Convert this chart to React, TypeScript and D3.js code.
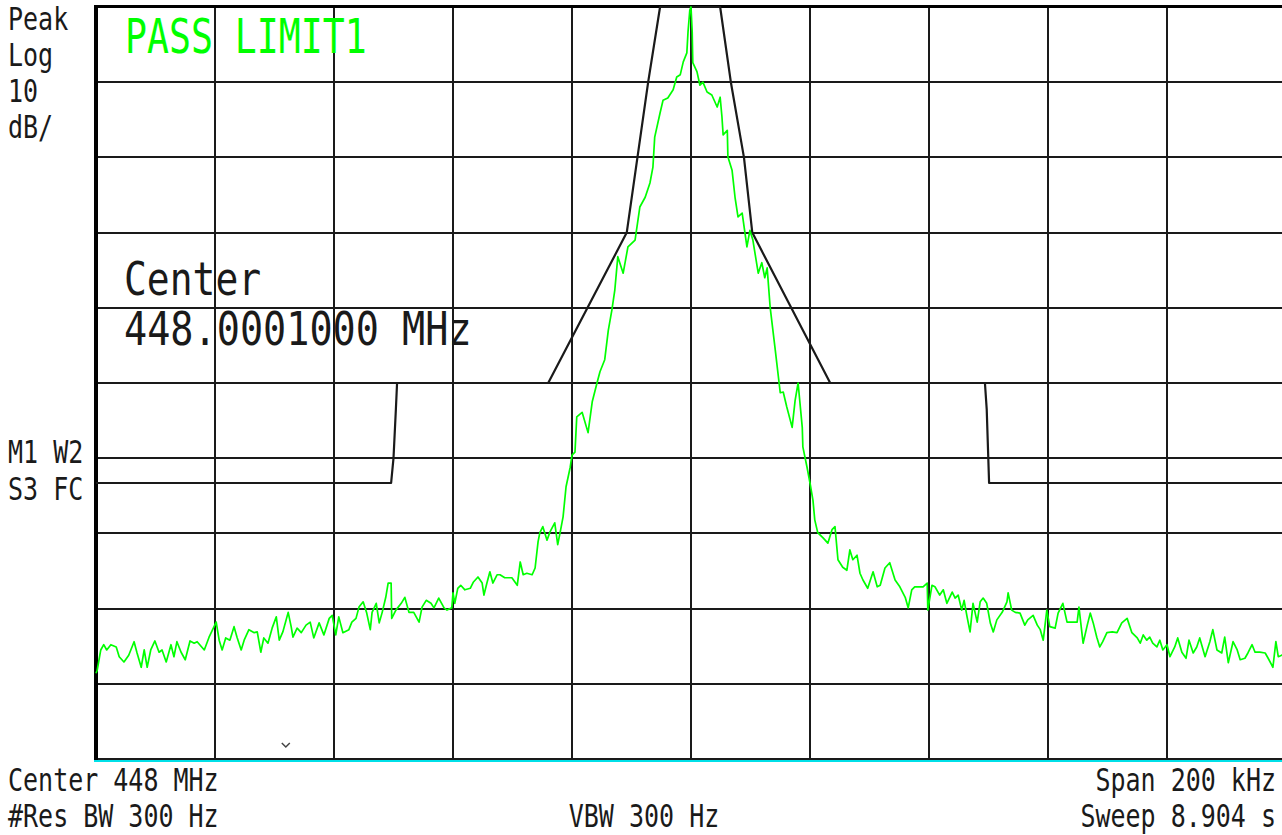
import React, { useEffect } from 'react';
import * as d3 from 'd3';

// Spectrum analyzer screen: 448 MHz center, 200 kHz span, 10 dB/div
const spanKHz = [-100, 100];
const levelDb = [0, -100];
const freqDivs = d3.range(-100, 101, 20);
const levelDivs = d3.range(0, -101, -10);

const scaleLabels = ['Peak', 'Log', '10', 'dB/'];
const markerLabels = ['M1 W2', 'S3 FC'];
const footerLeft = ['Center 448 MHz', '#Res BW 300 Hz'];
const footerMid = 'VBW 300 Hz';
const footerRight = ['Span 200 kHz', 'Sweep 8.904 s'];
const passText = 'PASS LIMIT1';
const centerText = ['Center', '448.0001000 MHz'];
const markerKHz = -68.1;

// limit line [kHz offset, dB]
const limit: [number, number][] = [
  [-100, -63.3], [-50.4, -63.3], [-50.0, -60], [-49.6, -53.5], [-49.4, -50], [-24.0, -50],
  [-10.8, -30], [-7.2, -10], [-5.2, 0],
  [4.9, 0], [6.7, -10], [8.9, -20], [10.3, -30], [23.4, -50], [49.4, -50],
  [49.7, -53.5], [50.1, -63.3], [100, -63.3],
];

// measured trace [kHz offset, dB]
const trace: [number, number][] = [
  [-100, -88.6], [-99.8, -88.2], [-99.2, -85.5], [-98.7, -84.8], [-98.2, -85.5], [-97.5, -84.8], [-96.6, -85.1],
  [-96.1, -86.4], [-95.3, -87.1], [-94.5, -86.2], [-93.6, -84.4], [-93.1, -85.9], [-92.4, -87.8],
  [-91.9, -85.5], [-91.4, -87.8], [-90.8, -85.5], [-90.1, -84.3], [-89.4, -85.8], [-88.9, -85.5],
  [-88.2, -87.1], [-87.4, -84.8], [-86.9, -86.4], [-86.4, -84.4], [-85.7, -85.8], [-85.0, -86.8],
  [-84.2, -84.3], [-83.5, -84.6], [-83.0, -84.4], [-81.8, -85.5], [-81.0, -83.8], [-79.8, -81.8],
  [-79.3, -84.2], [-78.8, -85.5], [-78.2, -83.9], [-77.5, -84.2], [-76.8, -82.4], [-76.3, -83.8],
  [-75.6, -85.5], [-75.1, -84.2], [-74.3, -82.8], [-73.4, -83.2], [-72.9, -83.1], [-72.3, -85.8],
  [-71.8, -83.9], [-71.1, -84.6], [-70.4, -82.6], [-69.7, -81.1], [-69.2, -84.2], [-68.6, -83.1],
  [-67.7, -80.5], [-67.2, -82.4], [-66.9, -83.8], [-66.2, -82.6], [-65.5, -83.2], [-64.7, -82.2],
  [-64.0, -81.8], [-63.4, -83.9], [-62.5, -81.9], [-61.7, -83.5], [-60.8, -81.3], [-60.3, -80.9],
  [-59.7, -83.5], [-59.2, -81.1], [-58.5, -83.2], [-57.5, -82.8], [-57.0, -81.8], [-56.3, -81.3],
  [-55.8, -79.8], [-55.1, -79.1], [-54.5, -80.6], [-53.9, -82.8], [-53.6, -80.5], [-52.9, -79.3],
  [-52.4, -81.9], [-51.9, -80.5], [-51.3, -78.5], [-50.9, -76.6], [-50.4, -76.6], [-50.3, -81.3],
  [-49.6, -80.2], [-48.7, -79.3], [-48.1, -78.5], [-47.4, -80.5], [-46.6, -80.5], [-45.7, -81.8],
  [-45.2, -79.8], [-44.5, -78.9], [-43.7, -79.3], [-43.2, -79.9], [-42.4, -78.6], [-41.5, -79.9],
  [-41.0, -80.2], [-40.2, -79.9], [-40.0, -77.9], [-39.7, -79.3], [-39.2, -77.3], [-38.7, -76.9],
  [-38.0, -77.5], [-37.1, -77.3], [-36.6, -76.5], [-35.8, -75.8], [-35.1, -76.6], [-34.8, -78.2],
  [-34.3, -76.6], [-33.8, -75.1], [-33.3, -76.6], [-32.6, -75.5], [-32.1, -75.5], [-31.3, -75.9],
  [-30.1, -75.9], [-29.2, -76.9], [-28.7, -73.8], [-28.2, -75.5], [-27.6, -75.3], [-26.7, -75.5],
  [-26.2, -74.6], [-25.7, -71.1], [-25.4, -69.9], [-24.9, -69.1], [-24.2, -70.9], [-23.7, -69.8],
  [-22.9, -68.6], [-22.4, -71.5], [-22.0, -69.9], [-21.5, -67.8], [-21.0, -63.8], [-20.3, -61.2],
  [-20.0, -59.6], [-19.5, -59.2], [-19.2, -54.5], [-18.3, -53.9], [-17.3, -56.6], [-16.6, -52.5],
  [-15.8, -50.0], [-15.3, -48.5], [-14.5, -46.9], [-13.9, -43.0], [-13.3, -40.3], [-12.8, -37.6],
  [-12.3, -33.2], [-11.4, -35.4], [-10.6, -31.9], [-9.4, -31.0], [-8.6, -26.6], [-7.7, -25.3],
  [-6.9, -23.4], [-6.4, -21.3], [-6.1, -17.3], [-5.2, -14.1], [-4.7, -12.4], [-3.9, -12.1],
  [-3.0, -11.0], [-2.4, -9.3], [-1.8, -9.0], [-1.3, -7.3], [-0.7, -6.1], [-0.5, -3.3],
  [-0.2, -0.4], [0, 0], [0.2, -3.3], [0.3, -7.4], [1.0, -8.6], [1.5, -10.4], [2.0, -10.0],
  [2.7, -11.3], [3.5, -11.7], [4.4, -13.3], [4.9, -12.0], [5.2, -14.6], [5.4, -17.0], [6.1, -16.4],
  [6.2, -19.9], [6.9, -21.7], [7.4, -25.3], [7.9, -27.9], [8.6, -27.4], [9.4, -31.9], [9.9, -29.7],
  [10.4, -31.0], [11.3, -35.4], [11.9, -34.0], [12.4, -36.0], [12.8, -34.7], [13.3, -39.9],
  [14.1, -45.2], [15.0, -51.3], [15.5, -51.2], [16.1, -53.2], [17.0, -55.9], [17.5, -52.3],
  [18.0, -50.0], [18.7, -55.9], [18.8, -58.5], [19.5, -61.2], [20.0, -63.3], [20.5, -65.6],
  [20.8, -68.2], [21.3, -69.9], [22.2, -70.6], [23.0, -71.3], [23.7, -69.5], [24.2, -69.1],
  [24.7, -73.5], [25.5, -74.5], [26.2, -74.9], [26.7, -72.2], [27.2, -73.5], [27.9, -72.9],
  [28.4, -75.3], [28.9, -76.2], [29.7, -77.3], [30.6, -75.1], [31.3, -77.1], [31.8, -76.9],
  [32.6, -74.6], [33.4, -73.9], [34.3, -76.2], [35.1, -77.1], [36.0, -78.5], [36.5, -79.9],
  [37.1, -77.5], [37.6, -77.1], [39.0, -77.1], [39.7, -76.6], [39.8, -80.2], [40.5, -76.9],
  [41.0, -77.1], [41.8, -78.2], [42.4, -77.5], [43.0, -79.3], [43.9, -77.8], [44.4, -78.6],
  [44.9, -78.2], [45.5, -80.2], [45.9, -78.9], [46.4, -81.1], [46.9, -83.1], [47.4, -79.3],
  [48.1, -81.8], [48.6, -79.1], [49.1, -78.6], [49.7, -79.3], [50.3, -81.9], [50.8, -83.1],
  [51.4, -81.5], [52.3, -80.5], [53.1, -79.1], [53.3, -77.9], [53.9, -80.2], [54.5, -80.5],
  [55.3, -80.6], [56.1, -82.2], [56.6, -81.5], [57.5, -80.9], [58.2, -82.2], [58.7, -82.8],
  [59.2, -84.2], [59.8, -80.2], [60.3, -82.4], [61.2, -82.6], [61.7, -80.6], [62.5, -79.3],
  [63.2, -81.8], [64.0, -81.8], [64.9, -81.8], [65.2, -79.8], [65.9, -84.6], [66.6, -82.2],
  [67.1, -80.6], [67.6, -81.9], [68.2, -83.8], [68.7, -85.1], [69.2, -84.4], [69.9, -83.2],
  [70.8, -83.1], [71.6, -83.2], [72.4, -81.9], [73.3, -81.3], [74.1, -83.2], [75.0, -83.9],
  [75.5, -84.6], [76.0, -83.5], [76.6, -84.2], [77.1, -83.8], [77.6, -84.6], [78.3, -85.1],
  [78.8, -84.2], [79.3, -85.5], [80.0, -84.8], [80.5, -86.4], [81.3, -85.1], [81.8, -83.9],
  [82.5, -85.8], [83.2, -86.6], [83.7, -84.2], [84.4, -85.9], [85.0, -85.1], [85.5, -83.9],
  [86.4, -86.4], [87.2, -84.4], [87.7, -82.8], [88.4, -85.5], [89.2, -85.9], [89.7, -83.8],
  [90.3, -87.2], [91.1, -84.4], [91.8, -85.5], [92.3, -86.8], [93.1, -86.6], [93.6, -85.9],
  [94.3, -84.8], [94.8, -85.8], [95.6, -85.8], [96.5, -85.9], [97.0, -86.6], [97.8, -87.8],
  [98.3, -84.4], [98.7, -86.4], [99.3, -86.2], [100, -85.5],
];

const W = 1282;
const H = 835;
const plot = { left: 96, right: 1286, top: 7, bottom: 759 };
const FONT = "'DejaVu Sans Mono', 'Liberation Mono', monospace";
const GREEN = '#00ff00';
const INK = '#1a1a1a';

function Label({ x, y, text, size, sy, anchor = 'start', fill = INK }: {
  x: number; y: number; text: string; size: number; sy: number; anchor?: string; fill?: string;
}) {
  return (
    <text
      transform={`translate(${x},${y}) scale(1,${sy})`}
      fontFamily={FONT}
      fontSize={size}
      textAnchor={anchor}
      fill={fill}
    >
      {text}
    </text>
  );
}

export default function App() {
  useEffect(() => {
    document.body.style.margin = '0';
  }, []);

  const x = d3.scaleLinear().domain(spanKHz).range([plot.left, plot.right]);
  const y = d3.scaleLinear().domain(levelDb).range([plot.top, plot.bottom]);

  const line = d3.line<[number, number]>()
    .x(d => x(d[0]))
    .y(d => y(d[1]));

  const mx = x(markerKHz);

  return (
    <svg width={W} height={H} style={{ display: 'block', background: '#fff' }}>
      {/* grid */}
      <g stroke={INK} strokeWidth={2} shapeRendering="crispEdges">
        {freqDivs.map(f => (
          <line key={`v${f}`} x1={Math.round(x(f))} x2={Math.round(x(f))} y1={plot.top} y2={plot.bottom} />
        ))}
        {levelDivs.map(l => (
          <line key={`h${l}`} x1={plot.left} x2={plot.right} y1={Math.round(y(l))} y2={Math.round(y(l))} />
        ))}
      </g>
      {/* heavier frame */}
      <g shapeRendering="crispEdges">
        <line x1={plot.left} x2={plot.left} y1={plot.top - 2} y2={plot.bottom + 1} stroke="#000" strokeWidth={4} />
        <line x1={plot.left} x2={W} y1={plot.top - 1} y2={plot.top - 1} stroke="#000" strokeWidth={3} />
        <line x1={plot.left - 2} x2={W} y1={plot.bottom + 2} y2={plot.bottom + 2} stroke="#00e0e8" strokeWidth={2} />
      </g>

      {/* limit line */}
      <path d={line(limit) ?? ''} fill="none" stroke={INK} strokeWidth={2.2} strokeLinejoin="round" />

      {/* trace */}
      <path d={line(trace) ?? ''} fill="none" stroke={GREEN} strokeWidth={1.7} strokeLinejoin="round" />

      {/* marker caret */}
      <path d={`M${mx - 4},${743} L${mx},${747} L${mx + 4},${743}`} fill="none" stroke="#444" strokeWidth={1.5} />

      {/* annotations */}
      <Label x={125} y={53} text={passText} size={36.5} sy={1.33} fill={GREEN} />
      <Label x={124} y={295} text={centerText[0]} size={38} sy={1.22} />
      <Label x={124} y={345} text={centerText[1]} size={38.5} sy={1.22} />

      {scaleLabels.map((t, i) => (
        <Label key={t} x={8} y={30 + i * 36} text={t} size={25} sy={1.27} />
      ))}
      {markerLabels.map((t, i) => (
        <Label key={t} x={8} y={463 + i * 37} text={t} size={25} sy={1.27} />
      ))}
      {footerLeft.map((t, i) => (
        <Label key={t} x={8} y={791 + i * 36} text={t} size={25} sy={1.27} />
      ))}
      <Label x={644} y={827} text={footerMid} size={25} sy={1.27} anchor="middle" />
      {footerRight.map((t, i) => (
        <Label key={t} x={1276} y={791 + i * 36} text={t} size={25} sy={1.27} anchor="end" />
      ))}
    </svg>
  );
}
